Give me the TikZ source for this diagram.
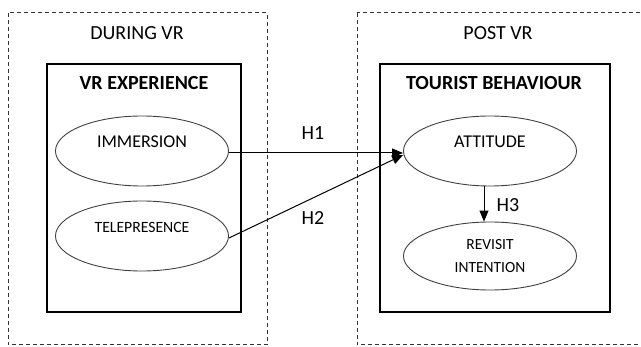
\documentclass[tikz,border=0pt]{standalone}
\usepackage{fontspec}
\setmainfont{Carlito}
\usetikzlibrary{arrows.meta,shapes.geometric}
\tikzset{> = {Triangle[length=11pt,width=9pt]}, every picture/.style={line width=1pt}}
\tikzset{
  phase/.style={font=\fontsize{20}{24}\selectfont},
  heading/.style={font=\bfseries\fontsize{20}{24}\selectfont},
  construct/.style={ellipse, draw=black!75, line width=0.9pt, minimum width=173pt, minimum height=70pt, inner sep=0pt},
  hyp/.style={font=\fontsize{20}{24}\selectfont},
}

\begin{document}
\begin{tikzpicture}[x=1pt,y=-1pt]
\useasboundingbox (0,0) rectangle (641,347);
\clip (0,0) rectangle (641,347);

% phases
\begin{scope}[dash pattern=on 4pt off 3pt, draw=black!80]
\draw (8,13) rectangle (267,345);
\draw (357,13) rectangle (660,345);
\end{scope}
\node[phase] (during) at (137,33) {DURING VR};
\node[phase] (post) at (498,33) {POST VR};

% blocks
\draw[line width=1.2pt] (47,64) rectangle (241,312);
\draw[line width=1.2pt] (380,64) rectangle (610,312);
\node[heading] (vrexp) at (144,83) {VR EXPERIENCE};
\node[heading] (tourist) at (494,83) {TOURIST BEHAVIOUR};

\begin{scope}[every label/.style={yshift=9pt}]
\node[construct, label={[font=\fontsize{18}{22}\selectfont]center:IMMERSION}] (imm) at (142,151) {};
\node[construct, label={[font=\fontsize{15.7}{20}\selectfont]center:TELEPRESENCE}] (tel) at (142,236) {};
\node[construct, label={[font=\fontsize{18}{22}\selectfont]center:ATTITUDE}] (att) at (490,151) {};
\end{scope}
\node[construct, minimum height=68pt, align=center, font=\fontsize{15.5}{23}\selectfont] (rev) at (490,256) {REVISIT\\INTENTION};

\begin{scope}[every edge/.style={draw}]
    \path [->] ([yshift=-2pt]imm.east) edge ([yshift=-2pt]att.west);
    \path [->] ([yshift=-2pt]tel.east) edge ([yshift=-4pt]att.west);
    \path [->] ([xshift=-6pt]att.south) edge ([xshift=-6pt]rev.north);
\end{scope}
\node[hyp] (h1) at (313,133) {H1};
\node[hyp] (h2) at (313,218) {H2};
\node[hyp] (h3) at (508,205) {H3};
\end{tikzpicture}
\end{document}
